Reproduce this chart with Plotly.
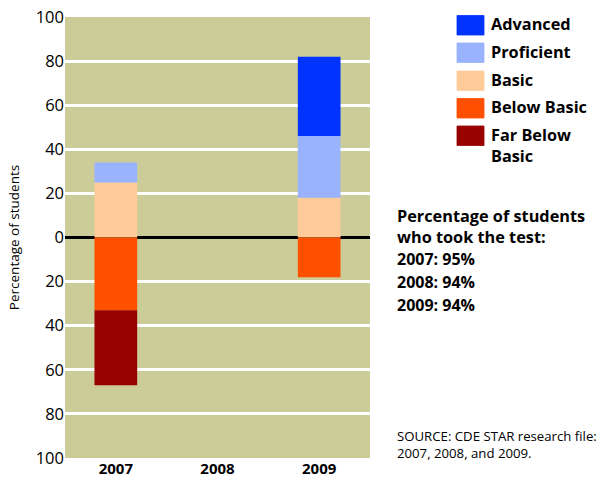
import plotly.graph_objects as go

years = ["2007", "2008", "2009"]
advanced = [0, None, 36]
proficient = [9, None, 28]
basic = [25, None, 18]
below_basic = [33, None, 18]
far_below_basic = [34, None, 0]

levels = ["Advanced", "Proficient", "Basic", "Below Basic", "Far Below Basic"]
level_labels = ["Advanced", "Proficient", "Basic", "Below Basic", "Far Below<br>Basic"]
colors = ["#0033FF", "#99B3FF", "#FFCC99", "#FF5000", "#990000"]

tick_vals = [-100, -80, -60, -40, -20, 0, 20, 40, 60, 80, 100]
tick_text = ["100", "80", "60", "40", "20", "0", "20", "40", "60", "80", "100"]

side_title = "Percentage of students<br>who took the test:"
side_lines = ["2007: 95%", "2008: 94%", "2009: 94%"]
source_text = "SOURCE: CDE STAR research file:<br>2007, 2008, and 2009."

W, H = 599, 482
L, R, T, B = 65, 370, 17, 458

def px(x):
    return (x - L) / (R - L)

def py(y):
    return (B - y) / (B - T)

FONT = "Open Sans"

fig = go.Figure()
# positive stack: Basic, Proficient, Advanced
fig.add_trace(go.Bar(x=years, y=basic, marker_color=colors[2], name="Basic", marker_line_width=0))
fig.add_trace(go.Bar(x=years, y=proficient, marker_color=colors[1], name="Proficient", marker_line_width=0))
fig.add_trace(go.Bar(x=years, y=advanced, marker_color=colors[0], name="Advanced", marker_line_width=0))
# negative stack: Below Basic, Far Below Basic
fig.add_trace(go.Bar(x=years, y=[None if v is None else -v for v in below_basic],
                     marker_color=colors[3], name="Below Basic", marker_line_width=0))
fig.add_trace(go.Bar(x=years, y=[None if v is None else -v for v in far_below_basic],
                     marker_color=colors[4], name="Far Below Basic", marker_line_width=0))

shapes = []
annotations = []
sw_top = [15.5, 43, 71, 98.5, 126]
for i, (lab, col) in enumerate(zip(level_labels, colors)):
    y0 = sw_top[i]
    shapes.append(dict(type="rect", xref="paper", yref="paper",
                       x0=px(457), x1=px(484), y0=py(y0 + 19.5), y1=py(y0),
                       fillcolor=col, line=dict(width=0.8, color=col), layer="above"))
    yc = y0 + 9.5
    annotations.append(dict(text="<b>" + lab + "</b>", xref="paper", yref="paper",
                            x=px(489), y=py(yc - 14),
                            xanchor="left", yanchor="top", showarrow=False, align="left",
                            font=dict(family=FONT, size=16.3, color="#000000")))

annotations.append(dict(text="<b>" + side_title + "</b>", xref="paper", yref="paper",
                        x=px(395), y=py(226), xanchor="left", yanchor="middle", align="left",
                        showarrow=False, font=dict(family=FONT, size=16.3, color="#000000")))
side_y = [259, 282, 305]
for t, yy in zip(side_lines, side_y):
    annotations.append(dict(text="<b>" + t + "</b>", xref="paper", yref="paper",
                            x=px(395), y=py(yy), xanchor="left", yanchor="middle",
                            showarrow=False, font=dict(family=FONT, size=16, color="#000000")))
annotations.append(dict(text=source_text, xref="paper", yref="paper",
                        x=px(395), y=py(444), xanchor="left", yanchor="middle", align="left",
                        showarrow=False, font=dict(family=FONT, size=13.2, color="#000000")))

fig.update_layout(
    width=W, height=H,
    margin=dict(l=L, r=W - R, t=T, b=H - B, pad=0, autoexpand=False),
    barmode="relative",
    bargap=0.58,
    showlegend=False,
    paper_bgcolor="#FFFFFF",
    plot_bgcolor="#CCCC99",
    shapes=shapes,
    annotations=annotations,
    font=dict(family=FONT, color="#000000"),
)
fig.update_xaxes(type="category", showgrid=False, showline=False, ticks="",
                 tickfont=dict(family=FONT, size=15, color="#000000"),
                 ticktext=["<b>" + y + "</b>" for y in years], tickvals=years,
                 automargin=False, fixedrange=True)
fig.update_yaxes(range=[-100, 100], tickvals=tick_vals, ticktext=tick_text,
                 showgrid=True, gridcolor="#FFFFFF", gridwidth=3,
                 zeroline=True, zerolinecolor="#000000", zerolinewidth=2.5,
                 showline=False, ticks="",
                 tickfont=dict(family=FONT, size=16.5, color="#000000"),
                 title=dict(text="Percentage of students",
                            font=dict(family=FONT, size=13.5, color="#000000"), standoff=12),
                 automargin=False, fixedrange=True)

fig.write_html("out.html", config={"displayModeBar": False},
               post_script="document.body.style.margin='0';document.body.style.overflow='hidden';")
